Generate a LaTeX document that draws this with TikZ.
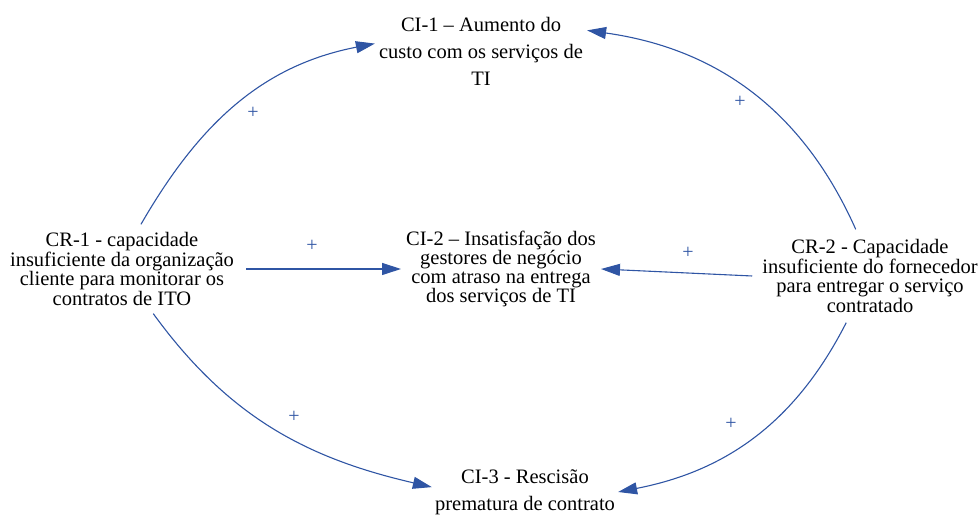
\documentclass[tikz,border=0pt]{standalone}
\usepackage{fontspec}
\setmainfont{Liberation Serif}
\usetikzlibrary{positioning, arrows.meta}

\definecolor{azul}{HTML}{2F55A4}

\begin{document}
\begin{tikzpicture}[x=1bp, y=1bp,
	causa/.style={align=center, inner ysep=8bp, font=\fontsize{20.5bp}{19.5bp}\selectfont},
	efeito/.style={align=center, inner ysep=0bp, inner xsep=5bp, font=\fontsize{20.5bp}{27bp}\selectfont},
	seta/.style={azul, line width=1.1bp, -{Triangle[length=19bp, width=12bp]}},
	sinal/.style={azul, inner sep=0pt, font=\fontsize{20bp}{20bp}\selectfont}]
	\useasboundingbox (0,0) rectangle (980,515);

	% Causas
	\node[causa, inner xsep=12bp] (cr1) at (122,246) {CR-1 - capacidade\\insuficiente da organização\\cliente para monitorar os\\contratos de ITO};
	\node[causa, inner xsep=10bp, inner ysep=10bp] (cr2) at (870,239) {CR-2 - Capacidade\\insuficiente do fornecedor\\para entregar o serviço\\contratado};

	% Efeitos
	\node[efeito, inner xsep=4bp] (ci1) at (481,464) {CI-1 – Aumento do\\custo com os serviços de\\TI};
	\node[efeito, font=\fontsize{20.5bp}{19bp}\selectfont, inner xsep=5bp] (ci2) at (501,246) {CI-2 – Insatisfação dos\\gestores de negócio\\com atraso na entrega\\dos serviços de TI};
	\node[efeito, inner xsep=3bp] (ci3) at (525,23) {CI-3 - Rescisão\\prematura de contrato};

	% Relações
	\draw[seta] (cr1.67) to[out=60, in=191] (ci1.176);
	\draw[seta] (cr2.107) to[out=114, in=-8] (ci1.11);
	\draw[seta] (cr1.east) -- (ci2.west);
	\draw[seta] (cr2.west) -- (ci2.east);
	\draw[seta] (cr1.-55) to[out=-54, in=167] (ci3.177);
	\draw[seta] (cr2.-117) to[out=-117, in=11] (ci3.east);

	% Sinais
	\node[sinal] (s1) at (253,402) {+};
	\node[sinal] (s2) at (740,413) {+};
	\node[sinal] (s3) at (312,269) {+};
	\node[sinal] (s4) at (688,262) {+};
	\node[sinal] (s5) at (294,98) {+};
	\node[sinal] (s6) at (731,91) {+};
\end{tikzpicture}
\end{document}
